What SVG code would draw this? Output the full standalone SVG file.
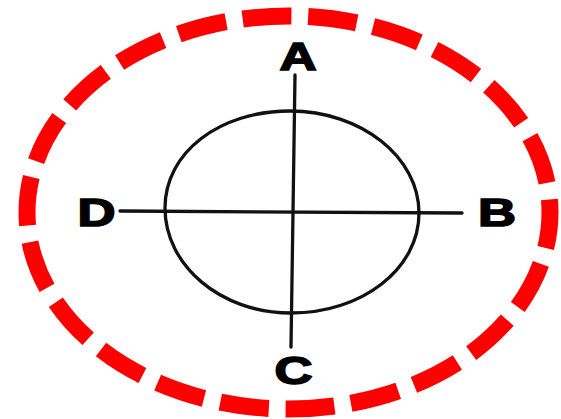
<svg xmlns="http://www.w3.org/2000/svg" width="561" height="419" viewBox="0 0 561 419">
<style>
.frame{fill:none;stroke:#ff0000;stroke-width:17;stroke-dasharray:0.745 0.255;stroke-dashoffset:0.2}
.ink{fill:none;stroke:#111;stroke-width:3.3;stroke-linecap:round;stroke-linejoin:round}
.lbl{font-family:"Liberation Sans",Arial,sans-serif;font-weight:bold;font-size:39px;fill:#000;stroke:#000;stroke-width:1.6;text-anchor:middle}
</style>
<rect width="561" height="419" fill="#ffffff"/>
<g id="frame">
<ellipse class="frame" cx="288.5" cy="212.5" rx="261.5" ry="196.5" pathLength="22"/>
</g>
<g id="circle">
<path class="ink" d="M290,111 C361,111 419,157 419,213 C419,269 362,313 291,313 C220,313 165,265 165,208 C165,152 220,111 290,111 Z"/>
</g>
<g id="connectors">
<path class="ink" d="M295,75 L293,212 L291,347"/>
<path class="ink" d="M120,211 L462,213"/>
</g>
<g id="label-A"><text class="lbl" transform="translate(298,70) scale(1.32,1)">A</text></g>
<g id="label-B"><text class="lbl" transform="translate(497,226) scale(1.35,1)">B</text></g>
<g id="label-C"><text class="lbl" transform="translate(293.5,384) scale(1.35,1)">C</text></g>
<g id="label-D"><text class="lbl" transform="translate(96.5,226) scale(1.35,1)">D</text></g>
</svg>
